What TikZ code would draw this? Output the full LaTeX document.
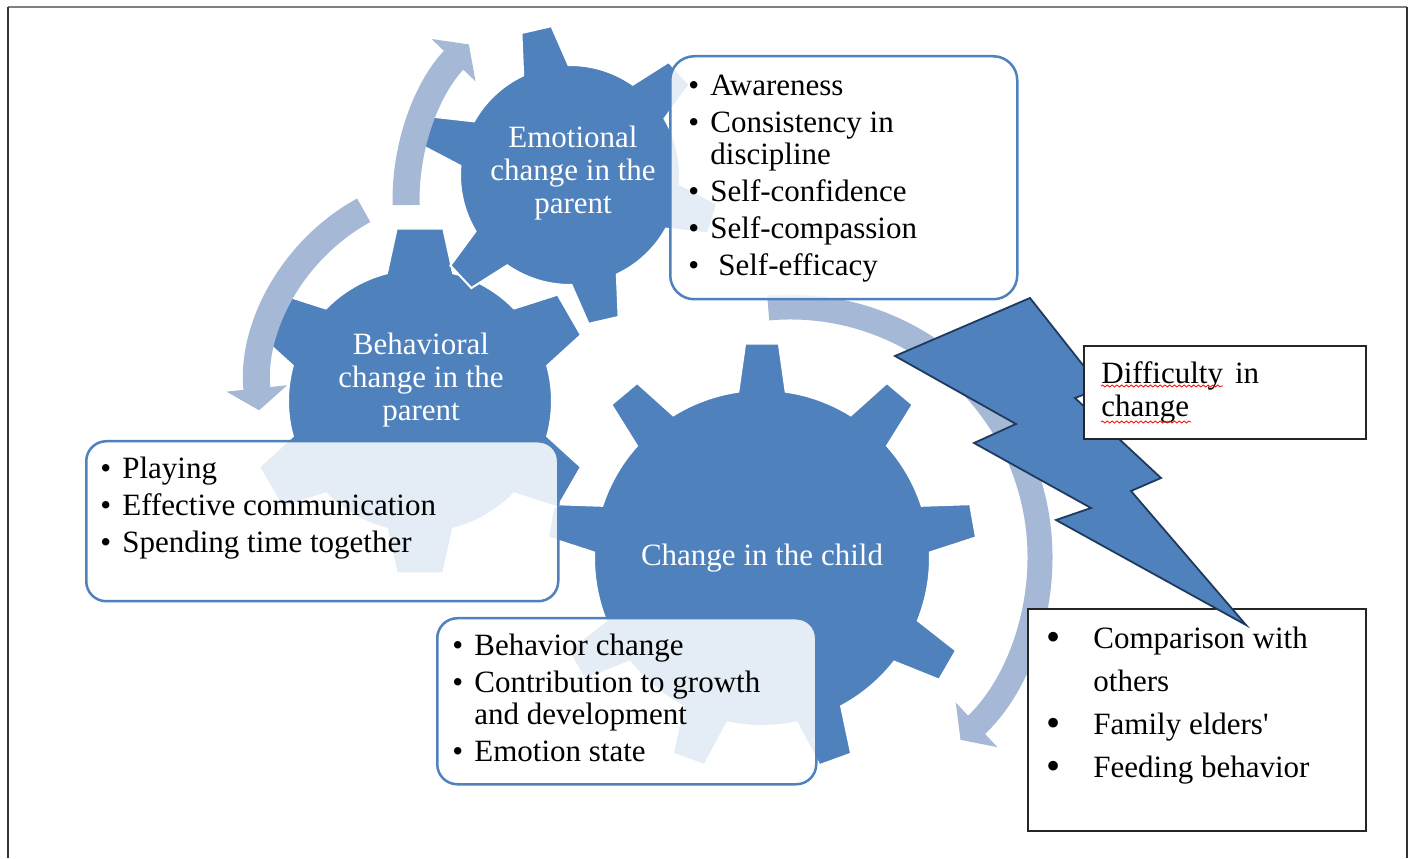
\documentclass[tikz,border=0pt]{standalone}
\usepackage{fontspec}
\setmainfont{Liberation Serif}
\usepackage{graphicx}
\usepackage{tikz}
\usetikzlibrary{arrows.meta,positioning,decorations.pathmorphing}

\definecolor{gearblue}{HTML}{4F81BD}
\definecolor{cycleblue}{HTML}{A5B9D6}
\definecolor{boltline}{HTML}{1F3A5F}
\definecolor{framegray}{HTML}{808080}

\newcommand{\bul}{\makebox[11pt][l]{\textbullet}}
\newcommand{\bigbul}{\makebox[23.5pt][l]{\raisebox{-0.05em}{\scalebox{1.3}{\textbullet}}}}
% center, teeth, rotation, body radius, tip radius, base half-angle, tip half-angle
\newcommand{\gearshape}[7]{%
  \begin{scope}[shift={(#1)}]
    \path[gear] ({#3-#6}:#4)
      \foreach \k [evaluate=\k as \t using #3+(\k-1)*360/#2] in {1,...,#2} {
        -- ({\t-#7}:#5) -- ({\t+#7}:#5) -- ({\t+#6}:#4)
        arc[start angle={\t+#6}, end angle={\t+360/#2-#6}, radius=#4]
      } -- cycle;
  \end{scope}}

\begin{document}
\begin{tikzpicture}[x=0.5pt, y=0.5pt,
    gear/.style={fill=gearblue, draw=white, line width=1pt},
    cyclearrow/.style={draw=cycleblue, line width=13.5pt, -{Triangle[width=30pt,length=11pt]}},
    listbox/.style={draw=gearblue, line width=1.25pt, fill=white, fill opacity=0.85,
      rounded corners=10pt, inner sep=0pt, anchor=north west},
    notebox/.style={draw=black!85, line width=0.9pt, fill=white, inner sep=0pt, anchor=north west},
    listtext/.style={align=left, inner sep=0pt, font=\fontsize{15.5}{16}\selectfont},
    geartext/.style={align=center, text=white, inner sep=0pt, font=\fontsize{15.5}{16.5}\selectfont},
    bolt/.style={fill=gearblue, draw=boltline, line width=0.9pt, line join=miter},
    squiggle/.style={red, line width=0.4pt, decorate,
      decoration={snake, amplitude=0.5pt, segment length=2.4pt}}]

  \useasboundingbox (0,0) rectangle (1410,858);
  \draw[framegray, line width=1pt] (8,851) -- (1407,851);
  \draw[black!80, line width=0.6pt] (8,851) -- (8,0) (1407,851) -- (1407,0);

  \gearshape{762,300}{9}{90}{168}{215}{8.1}{4.5}
  \gearshape{420,457}{6}{90}{132}{174}{14.5}{7.7}
  \gearshape{570,683}{6}{103}{110}{150}{12.2}{5.9}

  \coordinate (c1) at (630,658);
  \coordinate (c2) at (462,469);
  \coordinate (c3) at (790,301);
  \draw[cyclearrow] (c1) ++(181.3:224) arc[start angle=181.3, end angle=136, radius=224];
  \draw[cyclearrow] (c2) ++(118.8:204) arc[start angle=118.8, end angle=186, radius=204];
  \draw[cyclearrow, line width=12.5pt] (c3) ++(95:250) arc[start angle=95, end angle=-47, radius=250];

  \node[listbox, minimum width=173.5pt, minimum height=121.5pt, rounded corners=12pt] (aware) at (669,803) {};
  \node[listbox, minimum width=236pt, minimum height=80pt] (play) at (85,418) {};
  \node[listbox, minimum width=189.5pt, minimum height=83pt] (growth) at (436,241) {};
  \node[notebox, minimum width=169pt, minimum height=111pt] (compare) at (1027,250) {};

  \path[bolt] (1030,560) -- (1101,470) -- (1075,460) -- (1161,380) -- (1131,367) -- (1246,233)
    -- (1056,338) -- (1091,350) -- (974,415) -- (1016,434) -- (895,502) -- cycle;

  \node[notebox, minimum width=141pt, minimum height=46.5pt] (diff) at (1083,513) {};

  \node[geartext] (emo) at (573,685) {Emotional\\change in the\\parent};
  \node[geartext] (beh) at (421,478) {Behavioral\\change in the\\parent};
  \node[geartext] (child) at (762,300) {Change in the child};

  \node[listtext, below right=10pt and 9.5pt of aware.north west] (awaretxt)
    {\bul Awareness\\[2.5pt]
     \bul Consistency in\\
     \hspace*{11pt}discipline\\[2.5pt]
     \bul Self-confidence\\[2.5pt]
     \bul Self-compassion\\[2.5pt]
     \bul\hspace{4pt}Self-efficacy};
  \node[listtext, below right=8.5pt and 7.5pt of play.north west] (playtxt)
    {\bul Playing\\[2.5pt]
     \bul Effective communication\\[2.5pt]
     \bul Spending time together};
  \node[listtext, below right=8.5pt and 8pt of growth.north west] (growthtxt)
    {\bul Behavior change\\[2.5pt]
     \bul Contribution to growth\\
     \hspace*{11pt}and development\\[2.5pt]
     \bul Emotion state};
  \node[listtext, font=\fontsize{15.5}{21.5}\selectfont, below right=9.5pt and 9.5pt of compare.north west] (comparetxt)
    {\bigbul Comparison with\\
     \hspace*{23.5pt}others\\
     \bigbul Family elders\textquotesingle\\
     \bigbul Feeding behavior};
  \node[listtext, font=\fontsize{15.5}{16.5}\selectfont, below right=8pt and 9pt of diff.north west] (difftxt)
    {Difficulty\hspace{6pt}in\\change};

  \draw[squiggle] (1101,472) -- (1223,472);
  \draw[squiggle] (1101,436) -- (1191,436);
\end{tikzpicture}
\end{document}
